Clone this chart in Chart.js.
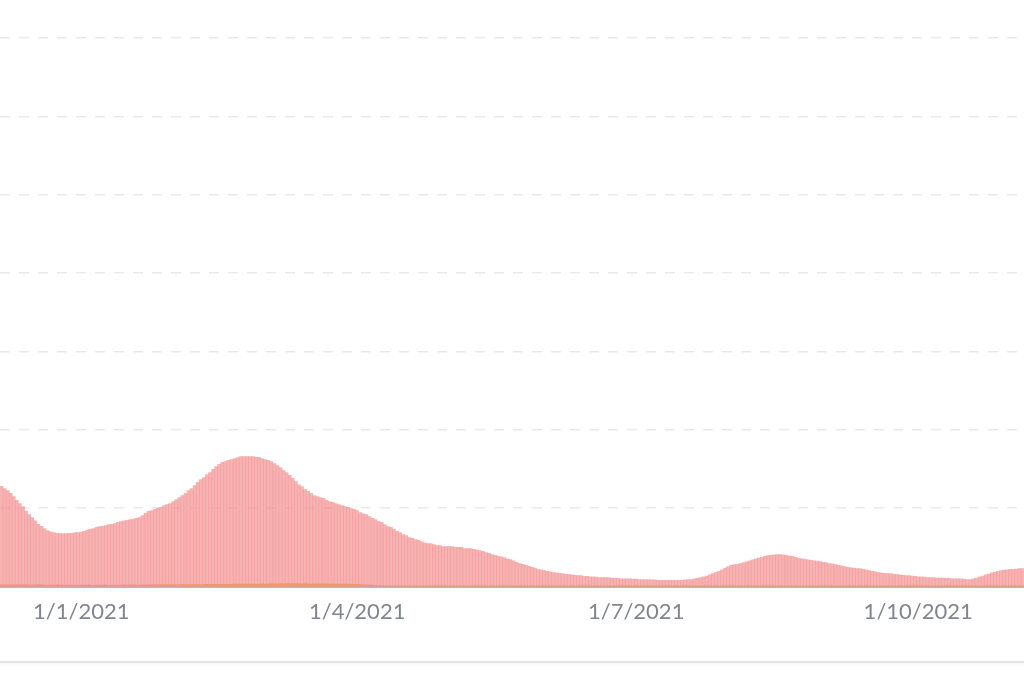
<!DOCTYPE html>
<html>
<head>
<meta charset="utf-8">
<script src="https://cdn.jsdelivr.net/npm/chart.js@4.4.1/dist/chart.umd.min.js"></script>
<style>
  html, body { margin: 0; padding: 0; background: #fff; overflow: hidden; }
  #wrap { position: relative; width: 1024px; height: 680px; }
  #cardLine { position: absolute; left: 0; top: 661px; width: 1024px; height: 2px;
              background: #e4e4e4; box-shadow: 0 1px 3px rgba(0,0,0,0.06); }
</style>
</head>
<body>
<div id="wrap">
  <canvas id="myChart" width="1024" height="680"></canvas>
  <div id="cardLine"></div>
</div>
<script>
// first bar = 6/12/2020, one bar per day
const startDay = [2020, 11, 6];
const tickLabels = ["1/1/2021", "1/4/2021", "1/7/2021", "1/10/2021"];

const casos = [
  1280, 1250, 1225, 1190, 1150, 1100, 1060, 1020, 960, 920,
  880, 840, 795, 770, 740, 715, 700, 690, 680, 675,
  675, 675, 680, 680, 690, 690, 695, 705, 720, 730,
  740, 755, 765, 770, 780, 790, 795, 805, 820, 830,
  840, 845, 855, 860, 870, 880, 905, 935, 960, 970,
  985, 1000, 1010, 1035, 1045, 1060, 1085, 1110, 1135, 1160,
  1190, 1225, 1250, 1290, 1330, 1365, 1390, 1430, 1455, 1495,
  1530, 1560, 1585, 1595, 1610, 1620, 1635, 1645, 1660, 1660,
  1660, 1660, 1660, 1650, 1650, 1635, 1620, 1610, 1595, 1570,
  1545, 1520, 1480, 1455, 1420, 1380, 1340, 1300, 1275, 1240,
  1215, 1190, 1160, 1150, 1135, 1125, 1100, 1085, 1075, 1060,
  1045, 1035, 1020, 1010, 995, 985, 970, 945, 930, 920,
  895, 870, 855, 830, 820, 790, 765, 755, 730, 705,
  690, 665, 650, 625, 615, 600, 590, 575, 560, 550,
  550, 535, 525, 525, 510, 510, 510, 510, 500, 500,
  500, 485, 485, 485, 475, 470, 460, 450, 435, 425,
  410, 400, 385, 380, 370, 355, 345, 330, 310, 295,
  285, 270, 260, 245, 235, 220, 215, 205, 195, 190,
  180, 175, 170, 165, 155, 155, 150, 145, 140, 140,
  130, 130, 125, 125, 120, 115, 115, 115, 115, 110,
  105, 105, 100, 100, 100, 100, 95, 95, 90, 90,
  90, 90, 85, 85, 80, 80, 80, 80, 80, 80,
  80, 80, 80, 85, 90, 90, 100, 105, 115, 125,
  135, 150, 165, 180, 195, 215, 235, 255, 270, 280,
  285, 295, 305, 315, 330, 340, 355, 365, 375, 385,
  395, 400, 405, 410, 410, 405, 400, 390, 385, 375,
  360, 355, 350, 340, 335, 330, 325, 320, 310, 305,
  295, 290, 280, 270, 265, 255, 245, 240, 235, 230,
  230, 220, 215, 205, 195, 190, 180, 175, 170, 165,
  165, 160, 155, 150, 145, 140, 140, 135, 130, 125,
  125, 120, 115, 115, 115, 110, 110, 110, 105, 105,
  100, 100, 100, 100, 95, 90, 90, 100, 110, 125,
  135, 150, 160, 175, 185, 195, 205, 210, 215, 220,
  220, 225, 230, 230
];

const fallecidos = [
  24, 23, 22, 22, 21, 22, 23, 22, 21, 21,
  20, 21, 22, 21, 20, 20, 19, 20, 21, 20,
  19, 19, 20, 19, 18, 19, 18, 18, 19, 18,
  17, 18, 18, 19, 18, 17, 18, 19, 19, 18,
  18, 19, 20, 19, 19, 20, 21, 20, 21, 22,
  22, 21, 22, 23, 22, 23, 24, 23, 24, 25,
  25, 26, 25, 26, 27, 26, 27, 28, 27, 28,
  29, 28, 29, 30, 29, 30, 31, 30, 31, 32,
  31, 32, 33, 32, 33, 34, 33, 35, 36, 35,
  36, 37, 36, 37, 38, 37, 38, 37, 36, 37,
  36, 35, 36, 35, 34, 35, 34, 33, 34, 33,
  32, 33, 32, 31, 30, 30, 28, 26, 24, 22,
  20, 18, 16, 14, 12, 11, 10, 9, 9, 8,
  8, 8, 7, 7, 7, 7, 7, 7, 6, 6,
  6, 6, 6, 6, 6, 6, 6, 6, 6, 6,
  6, 6, 6, 6, 6, 6, 6, 5, 5, 5,
  5, 5, 5, 5, 5, 5, 5, 5, 5, 5,
  5, 5, 5, 5, 5, 5, 5, 5, 5, 5,
  5, 5, 5, 5, 5, 5, 5, 5, 5, 5,
  5, 5, 5, 5, 5, 5, 5, 5, 5, 5,
  5, 5, 5, 5, 5, 5, 5, 5, 5, 5,
  5, 5, 5, 5, 5, 5, 5, 5, 5, 5,
  5, 5, 5, 5, 5, 5, 5, 5, 5, 5,
  5, 5, 5, 5, 5, 5, 5, 5, 5, 5,
  5, 5, 5, 5, 5, 5, 5, 5, 5, 5,
  5, 5, 5, 5, 5, 5, 5, 5, 5, 5,
  5, 5, 5, 5, 5, 5, 5, 5, 5, 5,
  5, 5, 5, 5, 5, 5, 5, 5, 5, 5,
  5, 5, 5, 5, 5, 5, 5, 5, 5, 5,
  5, 5, 5, 5, 5, 5, 5, 5, 5, 5,
  5, 5, 5, 5, 5, 5, 5, 5, 5, 5,
  5, 5, 5, 5, 5, 5, 5, 5, 5, 5,
  5, 5, 5, 5, 5, 5, 5, 5, 5, 5,
  5, 5, 5, 5
];

// etiquetas d/m/yyyy, una por dia
const fechas = casos.map((v, i) => {
  const d = new Date(startDay[0], startDay[1], startDay[2] + i);
  return d.getDate() + "/" + (d.getMonth() + 1) + "/" + d.getFullYear();
});

const ctx = document.getElementById("myChart").getContext("2d");
const myChart = new Chart(ctx, {
  type: "bar",
  data: {
    labels: fechas,
    datasets: [
      {
        data: fallecidos,
        backgroundColor: "rgba(240,150,100,0.9)",
        borderWidth: 0,
        barPercentage: 1,
        categoryPercentage: 1,
        grouped: false,
        order: 0,
      },
      {
        data: casos,
        backgroundColor: "rgba(243,140,140,0.66)",
        borderWidth: 0,
        barPercentage: 1,
        categoryPercentage: 1,
        grouped: false,
        order: 1,
      },
    ],
  },
  options: {
    responsive: false,
    animation: false,
    layout: { padding: { left: 0, right: 0, top: 38, bottom: 55 } },
    plugins: { legend: { display: false }, tooltip: { enabled: false } },
    scales: {
      x: {
        // marcas invisibles para separar las etiquetas sin padding lateral
        grid: { display: true, drawOnChartArea: false, drawTicks: true, tickLength: 12, color: "rgba(0,0,0,0)" },
        border: { display: true, color: "#d9a6a6", width: 2 },
        ticks: {
          autoSkip: false,
          maxRotation: 0,
          minRotation: 0,
          padding: 0,
          color: "#80868f",
          font: { family: "Lato", size: 22 },
          callback: function (val) {
            const l = this.getLabelForValue(val);
            return tickLabels.includes(l) ? l : "";
          },
        },
      },
      y: {
        min: 0,
        max: 7000,
        ticks: { display: false, stepSize: 1000 },
        border: { display: false, dash: [10, 9] },
        grid: { color: "#e9e9e9", lineWidth: 1.5, drawTicks: false },
      },
    },
  },
});
</script>
</body>
</html>
